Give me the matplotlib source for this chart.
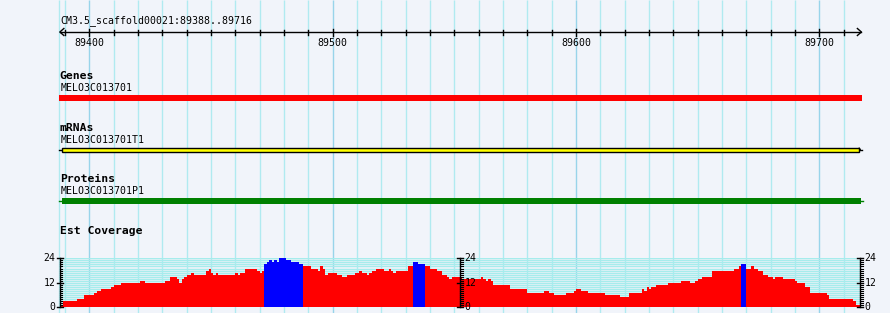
import numpy as np
import matplotlib
matplotlib.use("Agg")
import matplotlib.pyplot as plt
from matplotlib.patches import Rectangle

# region shown
seq_name = "CM3.5_scaffold00021"
region_start = 89388
region_end = 89716
ruler_major = [89400, 89500, 89600, 89700]

# tracks: (track title, feature name, start, end, colour)
gene = ("Genes", "MELO3C013701", 89388, 89716, "#ff0000")
mrna = ("mRNAs", "MELO3C013701T1", 89388, 89716, "#ffff00")
protein = ("Proteins", "MELO3C013701P1", 89388, 89716, "#008000")

# EST coverage, run-length: offset from region_start where a run begins, and its depth
cov_starts = [0, 1, 7, 10, 14, 15, 17, 21, 22, 25, 33, 35, 43, 45, 48, 49, 50, 51, 52, 54,
              55, 60, 61, 62, 63, 64, 65, 72, 73, 74, 76, 81, 82, 83, 84, 85, 86, 87, 88, 89,
              90, 93, 95, 98, 100, 103, 106, 107, 108, 109, 110, 114, 116, 118, 121, 123, 124,
              126, 127, 128, 130, 133, 135, 136, 137, 138, 143, 145, 147, 150, 152, 155, 157,
              159, 160, 161, 165, 173, 174, 175, 176, 177, 178, 185, 192, 199, 201, 203, 208,
              211, 212, 214, 217, 224, 230, 234, 239, 240, 241, 242, 243, 245, 250, 255, 259,
              261, 262, 264, 268, 277, 279, 280, 282, 284, 285, 287, 289, 291, 293, 294, 297,
              302, 303, 306, 308, 315, 316, 326, 327]
cov_values = [1, 3, 4, 6, 7, 8, 9, 10, 11, 12, 13, 12, 13, 15, 14, 12, 14, 15, 16, 17,
              16, 18, 19, 17, 16, 17, 16, 17, 16, 17, 19, 18, 17, 18, 21, 22, 23, 22, 23, 22,
              24, 23, 22, 21, 20, 19, 18, 20, 19, 16, 17, 16, 15, 16, 17, 18, 17,
              16, 17, 18, 19, 18, 19, 18, 17, 18, 20, 22, 21, 20, 19, 18, 16,
              15, 14, 15, 14, 15, 14, 13, 14, 13, 11, 9, 7, 8, 7, 6, 7,
              8, 9, 8, 7, 6, 5, 7, 9, 8, 10, 9, 10, 11, 12, 13, 12,
              13, 14, 15, 18, 19, 20, 21, 19, 20, 19, 18, 16, 15, 14, 15, 14,
              13, 12, 10, 7, 6, 4, 3, 1]
cov_max = 24
cov_ticks = [0, 12, 24]
high_depth = 21   # depth drawn in blue

W, H = 890, 313
PX = 2.4333               # pixels per bp
X0 = region_start - 60.1 / PX
X1 = X0 + W / PX
px = 1 / PX               # one pixel in bp

bg = "#f1f4fa"
grid_minor = "#b0eaf0"
grid_major = "#98d4ea"
mono = "DejaVu Sans Mono"
fs = 7.15
fs_bold = 8.2

fig = plt.figure(figsize=(W / 100, H / 100), dpi=100, facecolor=bg)
ax = fig.add_axes([0, 0, 1, 1])
ax.set_xlim(X0, X1)
ax.set_ylim(H, 0)
ax.axis("off")

# vertical grid
ax.vlines(region_start - 0.3, 0, H, color=grid_minor, lw=1, zorder=0)
for g in range(89390, region_end, 10):
    c = grid_major if g % 100 == 0 else grid_minor
    ax.vlines(g, 0, H, color=c, lw=1, zorder=0)

# ruler
left, right = region_start - 0.1, region_end + 1.3
ax.text(left + 0.4, 21, f"{seq_name}:{region_start}..{region_end}", fontsize=fs,
        family=mono, va="center", ha="left")
ax.plot([left, right], [32, 32], color="black", lw=1)
ax.plot([left + 4 * px, left, left + 4 * px], [28.5, 32, 35.5], color="black", lw=1)
ax.plot([right - 4 * px, right, right - 4 * px], [28.5, 32, 35.5], color="black", lw=1)
for g in range(89390, region_end, 10):
    if g in ruler_major:
        ax.plot([g, g], [29, 35.5], color="black", lw=1)
        ax.text(g, 42.5, str(g), fontsize=fs, family=mono, ha="center", va="center")
    else:
        ax.plot([g, g], [30, 34.5], color="black", lw=1)


def track_label(title, name, y):
    ax.text(left, y, title, fontsize=fs_bold, family=mono, weight="bold", va="center", ha="left")
    ax.text(left + 0.4, y + 12.3, name, fontsize=fs, family=mono, va="center", ha="left")


# genes
track_label(gene[0], gene[1], 76)
ax.add_patch(Rectangle((gene[2] - 0.5, 95), gene[3] - gene[2] + 1.9, 5.7,
                       facecolor=gene[4], edgecolor="none", zorder=3))

# mRNA
track_label(mrna[0], mrna[1], 128)
ax.plot([mrna[2] - 0.5, mrna[2] + 0.8], [149.5, 149.5], color="black", lw=1, zorder=3)
ax.add_patch(Rectangle((mrna[2] + 0.8, 147.5), mrna[3] - mrna[2] - 0.4, 4,
                       facecolor=mrna[4], edgecolor="black", lw=1, zorder=4))
ax.plot([mrna[3] + 0.4, mrna[3] + 1.6], [149.5, 149.5], color="black", lw=1, zorder=3)
ax.plot([mrna[3] + 0.4, mrna[3] + 0.9, mrna[3] + 0.4], [148, 149.5, 151], color="black",
        lw=0.8, zorder=3)

# proteins
track_label(protein[0], protein[1], 179)
ax.plot([protein[2] - 0.5, protein[2] + 0.8], [200.5, 200.5], color=protein[4], lw=1, zorder=3)
ax.add_patch(Rectangle((protein[2] + 0.8, 197.8), protein[3] - protein[2] + 0.5, 5.8,
                       facecolor=protein[4], edgecolor="none", zorder=3))
ax.plot([protein[3] + 1.3, protein[3] + 1.8], [200.5, 200.5], color=protein[4], lw=1, zorder=3)

# coverage
ax.text(left, 231, "Est Coverage", fontsize=fs_bold, family=mono, weight="bold",
        va="center", ha="left")

cax = fig.add_axes([0, (H - 307.3) / H, 1, 49 / H])
cax.set_xlim(X0, X1)
cax.set_ylim(0, cov_max)
cax.axis("off")
cax.patch.set_alpha(0)

cax.hlines(range(0, cov_max + 1), left, right - 0.5, color="#a6ecec", lw=1, zorder=1)

starts = np.array(cov_starts)
ends = np.append(starts[1:], region_end - region_start + 1)
vals = np.array(cov_values)
colors = ["#0000ff" if v >= high_depth else "#ff0000" for v in vals]
cax.bar(region_start + starts, vals, width=ends - starts, align="edge", color=colors,
        linewidth=0, antialiased=False, zorder=2)

mid = (region_start + region_end + 1) / 2
for xa, side in [(left, "left"), (mid, "right"), (right - 0.4, "right")]:
    cax.plot([xa, xa], [0, cov_max], color="black", lw=1, zorder=5, clip_on=False)
    for t in range(0, cov_max + 1):
        if t in cov_ticks:
            cax.plot([xa - 3 * px, xa + 3 * px], [t, t], color="black", lw=1, zorder=5,
                     clip_on=False)
        else:
            cax.plot([xa, xa + 2.5 * px], [t, t], color="black", lw=0.8, zorder=5,
                     clip_on=False)
    for t in cov_ticks:
        if side == "left":
            cax.text(xa - 4.5 * px, t, str(t), fontsize=fs, family=mono, ha="right",
                     va="center", clip_on=False)
        else:
            cax.text(xa + 4 * px, t, str(t), fontsize=fs, family=mono, ha="left",
                     va="center", clip_on=False)

fig.savefig("out.png", dpi=100, facecolor=bg)
